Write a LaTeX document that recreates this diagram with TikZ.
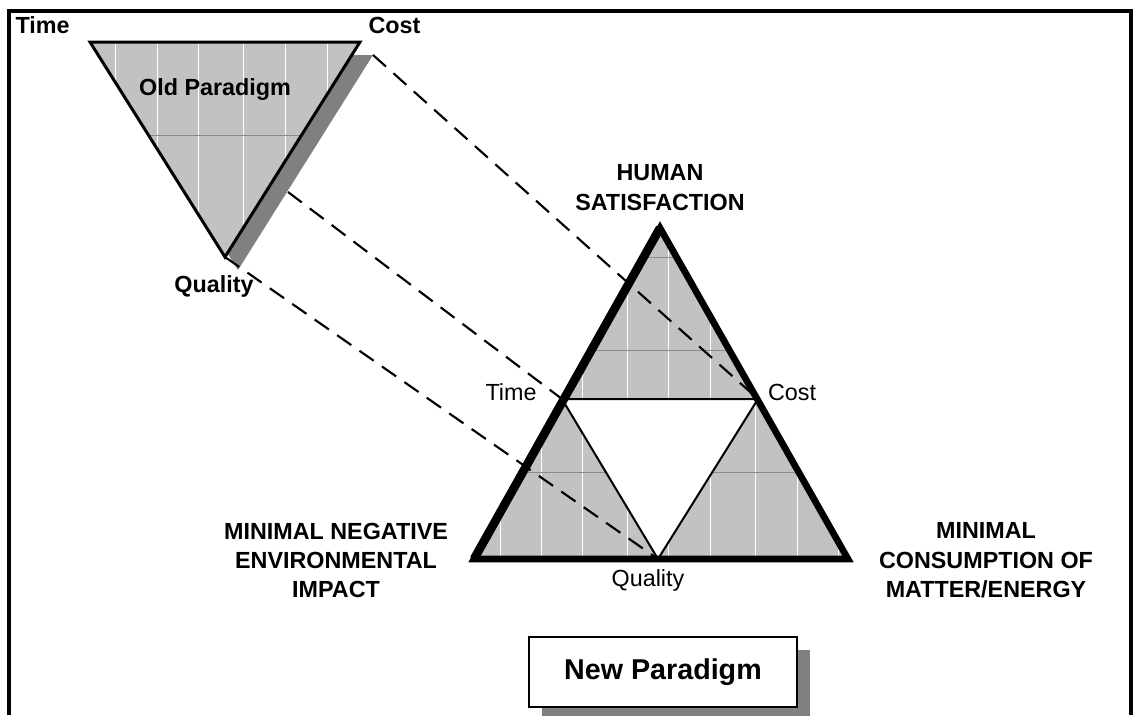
\documentclass[tikz,border=0pt]{standalone}
\usepackage{fontspec}
\setmainfont{Liberation Sans}
\usetikzlibrary{shadows}
\definecolor{hatch}{gray}{0.76}
\tikzset{every picture/.style={line width=0.75pt}}
\tikzset{
  hatchfill/.style={fill=hatch},
  tileline/.style={white,line width=0.75pt},
  seamline/.style={black!45,line width=0.5pt},
  linkline/.style={dash pattern={on 13pt off 7.5pt},line width=1.6pt},
  caplabel/.style={font=\fontsize{17.5}{22}\selectfont\bfseries,align=center,inner sep=0pt},
  vertexlabel/.style={font=\fontsize{17.5}{21}\selectfont,inner sep=0pt,anchor=base},
}

\begin{document}
\begin{tikzpicture}[x=0.75pt,y=0.75pt,yscale=-1,xscale=1]
\useasboundingbox (0,0) rectangle (1135,715);

%Old triangle corners
\coordinate (oT) at (90,42);
\coordinate (oC) at (360,42);
\coordinate (oQ) at (225,257);
\coordinate (oCs) at (373,55);
\coordinate (oE) at (288,192);
%New triangle corners
\coordinate (nA) at (660,228);
\coordinate (nL) at (474,559);
\coordinate (nR) at (848,559);
\coordinate (nT) at (562,399);
\coordinate (nC) at (758,399);
\coordinate (nQ) at (658,559);

%Frame
\draw [line width=3pt,line join=miter] (9,715) -- (9,10.5) -- (1131,10.5) -- (1131,715);

%Shape: Triangle shadow
\fill [gray] (103,55) -- (oCs) -- (238,270) -- cycle;

%Shape: Triangles of the new paradigm
\fill [hatchfill] (nA) -- (nT) -- (nC) -- cycle;
\fill [hatchfill] (nT) -- (nL) -- (nQ) -- cycle;
\fill [hatchfill] (nC) -- (nQ) -- (nR) -- cycle;
\begin{scope}
\clip (nA) -- (nT) -- (nC) -- cycle (nT) -- (nL) -- (nQ) -- cycle (nC) -- (nQ) -- (nR) -- cycle;
\foreach \x in {500,541,582,627,668,710,755,797,838}
  \draw [tileline] (\x,220) -- (\x,565);
\foreach \y in {257,350,472}
  \draw [seamline] (470,\y) -- (850,\y);
\end{scope}
\draw [line width=1.5pt] (nA) -- (nT) -- (nC) -- cycle;
\draw [line width=1.5pt] (nT) -- (nL) -- (nQ) -- cycle;
\draw [line width=1.5pt] (nC) -- (nQ) -- (nR) -- cycle;

%Dashed links
\draw [linkline] (oCs) -- (nC);
\draw [linkline] (oE) -- (nT);
\draw [linkline] (oQ) -- (nQ);

%Outline of the new paradigm
\draw [line width=5pt,line join=miter] (nA) -- (nL) -- (nR) -- cycle;
\draw [line width=6.5pt] (nA) -- (nL);

%Shape: Triangle of the old paradigm
\fill [hatchfill] (oT) -- (oC) -- (oQ) -- cycle;
\begin{scope}
\clip (oT) -- (oC) -- (oQ) -- cycle;
\foreach \x in {115,157,198,243,285,327}
  \draw [tileline] (\x,40) -- (\x,260);
\draw [seamline] (90,135) -- (360,135);
\end{scope}
\draw [line width=2.25pt,line join=miter] (oT) -- (oC) -- (oQ) -- cycle;

% Text Node
\node [caplabel,anchor=base west] (oTimeLbl) at (15,33) {Time};
% Text Node
\node [caplabel,anchor=base west] (oCostLbl) at (368,33) {Cost};
% Text Node
\node [caplabel,anchor=base] (oldLbl) at (215,95) {Old Paradigm};
% Text Node
\node [caplabel,anchor=base] (oQualLbl) at (214,292) {Quality};
% Text Node
\node [caplabel] (topLbl) at (660,187.5) {HUMAN\\SATISFACTION};
% Text Node
\node [caplabel] (leftLbl) at (336,560.5) {MINIMAL NEGATIVE\\ENVIRONMENTAL\\IMPACT};
% Text Node
\node [caplabel] (rightLbl) at (986,560.5) {MINIMAL\\CONSUMPTION OF\\MATTER/ENERGY};
% Text Node
\node [vertexlabel] (nTimeLbl) at (511,400) {Time};
% Text Node
\node [vertexlabel] (nCostLbl) at (792,400) {Cost};
% Text Node
\node [vertexlabel] (nQualLbl) at (648,586) {Quality};

%Box with shadow
\node [draw,fill=white,line width=1.5pt,minimum width=201pt,minimum height=52.5pt,
  font=\fontsize{21.5}{26}\selectfont\bfseries,
  drop shadow={shadow xshift=9.75pt,shadow yshift=-9.75pt,fill=gray,opacity=1}] (newBox) at (663,672) {New Paradigm};

\end{tikzpicture}
\end{document}
